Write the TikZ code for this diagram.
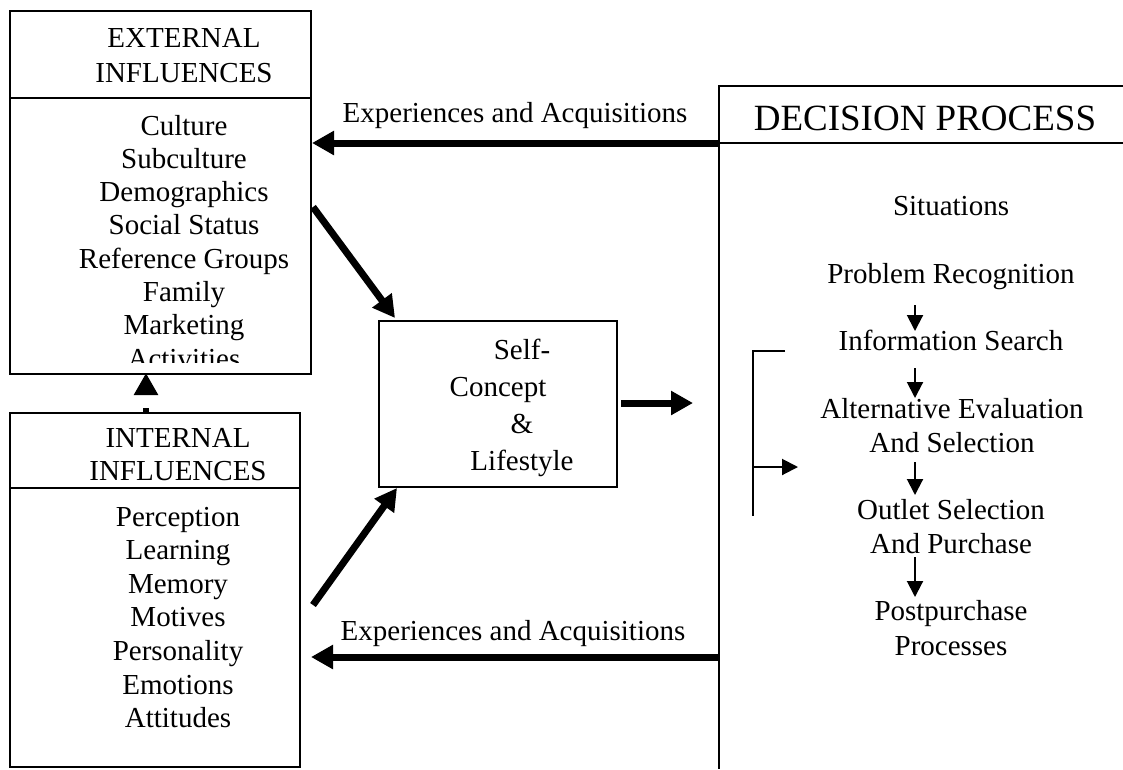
\documentclass[tikz,border=0pt]{standalone}
\usepackage{fontspec}
\setmainfont{Liberation Serif}
\usetikzlibrary{arrows.meta}
\begin{document}
\begin{tikzpicture}[x=1pt,y=-1pt,
  box/.style={draw,line width=2pt,anchor=north west,inner sep=0pt},
  txt/.style={anchor=base,inner sep=0pt,font=\fontsize{29}{33.3}\selectfont},
  bigtxt/.style={anchor=base,inner sep=0pt,font=\fontsize{37}{42}\selectfont},
  thin/.style={line width=2pt},
  big/.style={line width=7pt,-{Triangle[length=22pt,width=23pt]}},
  small/.style={line width=2pt,-{Triangle[length=16pt,width=16pt]}}]
\useasboundingbox (0,0) rectangle (1123,769);
\fill[white] (0,0) rectangle (1123,769);

% External influences
\node[box,minimum width=301pt,minimum height=363pt] (ext) at (9,10) {};
\draw[thin] (9,98) coordinate (extdl) -- (310,98) coordinate (extdr);
\node[txt] (exth1) at (184,47) {EXTERNAL};
\node[txt] (exth2) at (184,82) {INFLUENCES};
\foreach \t [count=\i] in {Culture,Subculture,Demographics,Social Status,Reference Groups,Family,Marketing}
  \node[txt] (e\i) at (184,{135+33.3*(\i-1)}) {\t};
\begin{scope}
  \clip (10,99) rectangle (309,362);
  \node[txt] (e8) at (184,368) {Activities};
\end{scope}

% Internal influences
\node[box,minimum width=290pt,minimum height=354pt] (int) at (9,412) {};
\draw[thin] (9,488) coordinate (intdl) -- (299,488) coordinate (intdr);
\node[txt] (inth1) at (178,447) {INTERNAL};
\node[txt] (inth2) at (178,480) {INFLUENCES};
\foreach \t [count=\i] in {Perception,Learning,Memory,Motives,Personality,Emotions,Attitudes}
  \node[txt] (n\i) at (178,{526+33.65*(\i-1)}) {\t};

% Dashed arrow internal -> external
\coordinate (dA) at (146,412);
\coordinate (dB) at (146,373);
\draw[line width=6pt,dash pattern=on 4pt off 40pt,-{Triangle[length=22pt,width=23pt]}] (dA) -- (dB);

% Self-concept box
\node[box,minimum width=238pt,minimum height=166pt] (self) at (378,320) {};
\node[txt] (s1) at (522,359) {Self-};
\node[txt] (s2) at (498,396) {Concept};
\node[txt] (s3) at (522,433) {\&};
\node[txt] (s4) at (522,470) {Lifestyle};

% Diagonal arrows
\coordinate (g1s) at (313,207);
\coordinate (g1e) at (395,318);
\draw[big] (g1s) -- (g1e);
\coordinate (g2s) at (313,605);
\coordinate (g2e) at (397,488);
\draw[big] (g2s) -- (g2e);

% Self -> decision
\coordinate (r1s) at (621,403);
\coordinate (r1e) at (693,403);
\draw[big] (r1s) -- (r1e);

% Decision process frame
\coordinate (dtl) at (719,86);
\coordinate (dtr) at (1123,86);
\coordinate (dbl) at (719,769);
\coordinate (ddl) at (719,143);
\coordinate (ddr) at (1123,143);
\draw[thin] (dtr) -- (dtl) -- (dbl);
\draw[thin] (ddl) -- (ddr);
\node[bigtxt] (dech) at (925,130) {DECISION PROCESS};

% Experiences arrows
\draw[big] (ddl) -- (ddl -| ext.east);
\node[txt] (lab1) at (515,122) {Experiences and Acquisitions};
\coordinate (b1) at (719,657);
\coordinate (b2) at (311,657);
\draw[big] (b1) -- (b2);
\node[txt] (lab2) at (513,640) {Experiences and Acquisitions};

% Decision steps
\node[txt] (p0) at (951,215) {Situations};
\node[txt] (p1) at (951,283) {Problem Recognition};
\node[txt] (p2) at (951,350) {Information Search};
\node[txt] (p3a) at (952,418) {Alternative Evaluation};
\node[txt] (p3b) at (952,452) {And Selection};
\node[txt] (p4a) at (951,519) {Outlet Selection};
\node[txt] (p4b) at (951,553) {And Purchase};
\node[txt] (p5a) at (951,620) {Postpurchase};
\node[txt] (p5b) at (951,655) {Processes};

\coordinate (k1a) at (915,305); \coordinate (k1b) at (915,331);
\coordinate (k2a) at (915,368); \coordinate (k2b) at (915,398);
\coordinate (k3a) at (915,462); \coordinate (k3b) at (915,495);
\coordinate (k4a) at (915,557); \coordinate (k4b) at (915,597);
\draw[small] (k1a) -- (k1b);
\draw[small] (k2a) -- (k2b);
\draw[small] (k3a) -- (k3b);
\draw[small] (k4a) -- (k4b);

% Bracket
\coordinate (bt1) at (785,351);
\coordinate (bt2) at (753,351);
\coordinate (bt3) at (753,516);
\coordinate (bm1) at (753,467);
\coordinate (bm2) at (798,467);
\draw[thin] (bt1) -- (bt2) -- (bt3);
\draw[small] (bm1) -- (bm2);
\end{tikzpicture}
\end{document}
